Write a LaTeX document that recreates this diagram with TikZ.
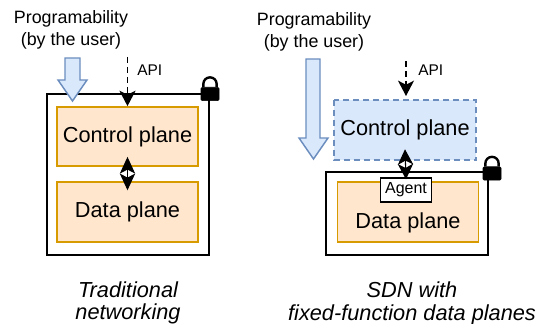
\documentclass[tikz,border=0pt]{standalone}
\usepackage{fontspec}
\setmainfont{Liberation Sans}
\usetikzlibrary{arrows.meta}
\definecolor{planefill}{HTML}{FFE6CC}
\definecolor{planeline}{HTML}{D79B00}
\definecolor{bluefill}{HTML}{DAE8FC}
\definecolor{blueline}{HTML}{6C8EBF}
\tikzset{
  x=0.75pt,y=-0.75pt,
  outerbox/.style={draw=black,line width=1.5pt,fill=white,inner sep=0pt,minimum width=#1},
  planebox/.style={draw=planeline,line width=1.1pt,fill=planefill,inner sep=0pt,font=\fontsize{16.3}{18}\selectfont},
  ctrlbox/.style={draw=none,fill=bluefill,inner sep=0pt,font=\fontsize{16.3}{18}\selectfont},
  ctrlborder/.style={draw=blueline,line width=1.2pt,dash pattern=on 4.5pt off 3pt},
  agentbox/.style={draw=black,line width=1.1pt,fill=white,inner sep=0pt,font=\fontsize{12}{14}\selectfont},
  progtext/.style={font=\fontsize{13.4}{16}\selectfont,inner sep=0pt},
  apitext/.style={font=\fontsize{11.6}{14}\selectfont,inner sep=0pt,anchor=west},
  captext/.style={font=\fontsize{16.3}{18}\selectfont\itshape,inner sep=0pt},
  apiconn/.style={draw=black,line width=1.1pt,dash pattern=on 4.5pt off 3pt,-{Stealth[length=11.5pt,width=12pt,inset=3pt,sep=0pt]}},
  dblconn/.style={draw=black,line width=0.8pt,{Stealth[length=#1,width=11.5pt,inset=3pt]}-{Stealth[length=#1,width=11.5pt,inset=3pt]}},
  blockarrow/.style={draw=blueline,line width=1.1pt,fill=bluefill,line join=miter},
  lockbody/.style={fill=black,draw=black,line width=.5pt,rounded corners=1pt,inner sep=0pt,minimum width=13.5pt,minimum height=10pt},
  lockarc/.style={draw=black,line width=1.8pt},
}
\begin{document}
\begin{tikzpicture}
\useasboundingbox (0,0) rectangle (543,324);
% --- left
\node[outerbox=121pt,minimum height=121pt] (outerL) at (128,174.5) {};
\node[planebox,minimum width=106pt,minimum height=44.5pt] (ctrlL) at (127.5,136.5) {Control plane};
\node[planebox,minimum width=106pt,minimum height=45pt] (dataL) at (127.5,212) {Data plane};
\node[progtext] (progL1) at (71,19) {Programability};
\node[progtext] (progL2) at (71,41) {(by the user)};
\node[apitext] (apiL) at (137,70) {API};
\coordinate (apiLs) at (127.5,57);
\draw[apiconn] (apiLs) -- (ctrlL.north);
\draw[dblconn=12.5pt] ([yshift=7.5pt]ctrlL.south) -- ([yshift=-6.75pt]dataL.north);
\draw[blockarrow] (65,58) -- (80,58) -- (80,80) -- (87,80) -- (72.5,101) -- (58,80) -- (65,80) -- cycle;
\node[lockbody] (lockL) at (210,94) {};
\draw[lockarc] ([xshift=-5pt]lockL.north) -- ++(0,-3) arc[start angle=180,end angle=0,x radius=5pt,y radius=5pt] -- ([xshift=5pt]lockL.north);
\node[captext] (capL1) at (128,290) {Traditional};
\node[captext] (capL2) at (128,314) {networking};
% --- right
\node[outerbox=121.5pt,minimum height=62pt] (outerR) at (407,213.5) {};
\node[planebox,minimum width=106pt,minimum height=45pt] (dataR) at (408,212) {\raisebox{-12.5pt}[0pt][0pt]{Data plane}};
\node[ctrlbox,minimum width=106pt,minimum height=45pt] (ctrlR) at (405,130) {Control plane};
\draw[ctrlborder] (ctrlR.north west) rectangle (ctrlR.south east);
\node[agentbox,minimum width=38pt,minimum height=18pt] (agent) at (406,190) {Agent};
\node[progtext] (progR1) at (314,21) {Programability};
\node[progtext] (progR2) at (314,43) {(by the user)};
\node[apitext] (apiR) at (418,70) {API};
\coordinate (apiRs) at (406,61);
\coordinate (apiRe) at (406,96);
\draw[apiconn] (apiRs) -- (apiRe);
\draw[dblconn=11.5pt] ([yshift=8.25pt]ctrlR.south) -- ([yshift=-1.5pt]agent.north);
\draw[blockarrow] (306,59) -- (320,59) -- (320,138) -- (328,138) -- (313.5,159) -- (299,138) -- (306,138) -- cycle;
\node[lockbody] (lockR) at (492,173.5) {};
\draw[lockarc] ([xshift=-5pt]lockR.north) -- ++(0,-3) arc[start angle=180,end angle=0,x radius=5pt,y radius=5pt] -- ([xshift=5pt]lockR.north);
\node[captext] (capR1) at (412,290) {SDN with};
\node[captext] (capR2) at (412,315) {fixed-function data planes};
\end{tikzpicture}
\end{document}
